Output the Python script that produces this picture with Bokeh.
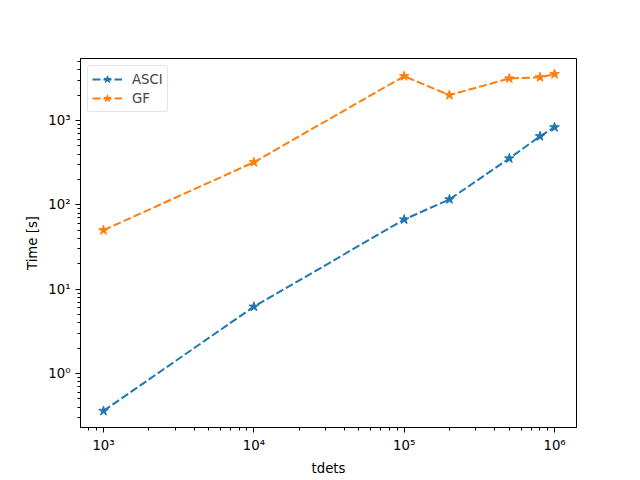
from bokeh.plotting import figure
from bokeh.embed import file_html
from bokeh.resources import INLINE
from bokeh.models import LogTicker, CustomJSTickFormatter, Range1d

tdets = [1e3, 1e4, 1e5, 2e5, 5e5, 8e5, 1e6]
asci = [0.36, 6.2, 67, 116, 355, 650, 830]
gf = [50, 320, 3350, 2000, 3150, 3250, 3550]

p = figure(width=640, height=480, x_axis_type="log", y_axis_type="log",
           output_backend="svg", toolbar_location=None,
           frame_width=496, frame_height=369,
           min_border_left=80, min_border_right=64, min_border_top=58, min_border_bottom=53,
           x_range=Range1d(10**2.847, 10**6.146), y_range=Range1d(10**-0.64, 10**3.735))
p.background_fill_color = "white"
p.border_fill_color = "white"
p.outline_line_color = "black"
p.outline_line_width = 1
p.grid.visible = False

fmt = CustomJSTickFormatter(code="""
const sup = {'0':'\u2070','1':'\u00b9','2':'\u00b2','3':'\u00b3','4':'\u2074','5':'\u2075','6':'\u2076','7':'\u2077','8':'\u2078','9':'\u2079','-':'\u207b'};
const e = Math.round(Math.log10(tick));
return '10' + String(e).split('').map(c => sup[c]).join('');
""")

for ax in (p.xaxis[0], p.yaxis[0]):
    ax.ticker = LogTicker(num_minor_ticks=10)
    ax.formatter = fmt
    ax.major_tick_in = 0
    ax.major_tick_out = 5
    ax.minor_tick_in = 0
    ax.minor_tick_out = 3
    ax.axis_line_color = "black"
    ax.major_tick_line_color = "black"
    ax.minor_tick_line_color = "black"
    ax.major_label_text_font = "DejaVu Sans"
    ax.major_label_text_font_size = "13.3px"
    ax.major_label_text_color = "black"
    ax.axis_label_text_font = "DejaVu Sans"
    ax.axis_label_text_font_size = "13.3px"
    ax.axis_label_text_font_style = "normal"
    ax.axis_label_text_color = "black"

p.xaxis.axis_label = "tdets"
p.yaxis.axis_label = "Time [s]"

c1, c2 = "#1f77b4", "#ff7f0e"
p.line(tdets, asci, color=c1, line_width=2, line_dash="8 3", legend_label="ASCI")
p.scatter(tdets, asci, marker="star", size=10, color=c1, legend_label="ASCI")
p.line(tdets, gf, color=c2, line_width=2, line_dash="8 3", legend_label="GF")
p.scatter(tdets, gf, marker="star", size=10, color=c2, legend_label="GF")

p.legend.location = "top_left"
p.legend.border_line_color = "#cccccc"
p.legend.border_line_width = 1
p.legend.border_radius = 3
p.legend.background_fill_alpha = 0.8
p.legend.label_text_font = "DejaVu Sans"
p.legend.label_text_font_size = "13.3px"
p.legend.margin = 7
p.legend.padding = 4
p.legend.spacing = 1
p.legend.glyph_width = 30
p.legend.glyph_height = 18
p.legend.label_height = 18
p.legend.label_standoff = 10

open("out.html", "w").write(file_html(p, INLINE))
